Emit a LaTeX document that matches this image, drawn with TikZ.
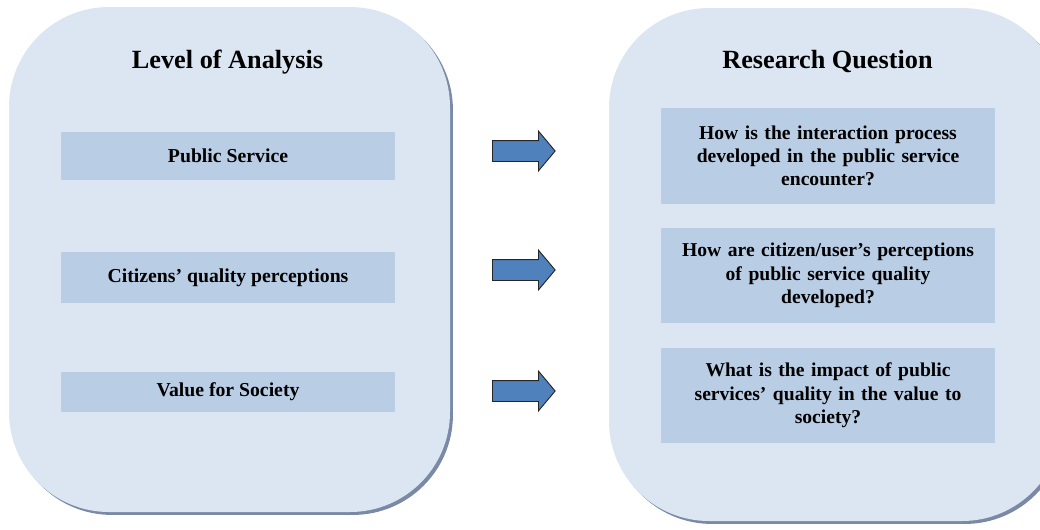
\documentclass[tikz,border=0pt]{standalone}
\usepackage{fontspec}
\setmainfont{Liberation Serif}
\usepackage{tikz}
\usetikzlibrary{positioning,shadows,shapes.arrows}

\definecolor{panelfill}{HTML}{DCE6F2}
\definecolor{boxfill}{HTML}{B9CDE5}
\definecolor{arrowfill}{HTML}{4F81BD}
\definecolor{shadowcol}{HTML}{7A8AA6}

\begin{document}
\begin{tikzpicture}
[x=0.75pt, y=-0.75pt, font=\bfseries,
    panel/.style={rectangle, rounded corners=75pt, fill=panelfill, draw=none,
    drop shadow={shadow xshift=2.2pt, shadow yshift=-2.2pt, fill=shadowcol, opacity=1}},
    paneltitle/.style={anchor=base, font=\bfseries\fontsize{19.7}{23}\selectfont},
    item/.style={rectangle, fill=boxfill, minimum width=250.5pt, align=center,
    inner sep=0pt, font=\bfseries\fontsize{14.8}{17}\selectfont},
    question/.style={rectangle, fill=boxfill, minimum width=250.5pt, minimum height=71.5pt,
    text width=245pt, align=center, inner sep=0pt,
    font=\bfseries\fontsize{14.7}{17.5}\selectfont},
    blockarrow/.style={single arrow, anchor=tail, fill=arrowfill, draw=black!85, line width=0.7pt,
    minimum height=47pt, minimum width=29pt, inner xsep=0pt, inner ysep=7.5pt,
    single arrow head extend=7pt, single arrow tip angle=100}
    ]

    \useasboundingbox (0,0) rectangle (1040,529);

    % two large panels
    \node[panel, minimum width=330.75pt, minimum height=378.75pt] (analysis) at (229.5,259.5) {};
    \node[panel, minimum width=339.75pt, minimum height=384.75pt] (research) at (835.5,264.5) {};

    \node[paneltitle] (analysistitle) at (227.5,68) {Level of Analysis};
    \node[paneltitle] (researchtitle) at (827.5,68) {Research Question};

    % levels
    \node[item, minimum height=36pt] (service) at (228,156) {Public Service};
    \node[item, minimum height=38pt] (perception) at (228,277.5) {Citizens’ quality perceptions};
    \node[item, minimum height=30pt] (society) at (228,392) {Value for Society};

    % questions
    \node[question] (q1) at (828,156) {How is the interaction process\\ developed in the public service\\ encounter?};
    \node[question] (q2) at (828,275.5) {How are citizen/user’s perceptions\\ of public service quality\\ developed?};
    \node[question] (q3) at (828,395.5) {What is the impact of public\\ services’ quality in the value to\\ society?};

    % arrows
    \node[blockarrow] (a1) at (492,151) {};
    \node[blockarrow] (a2) at (492,270) {};
    \node[blockarrow] (a3) at (492,391) {};
\end{tikzpicture}
\end{document}
